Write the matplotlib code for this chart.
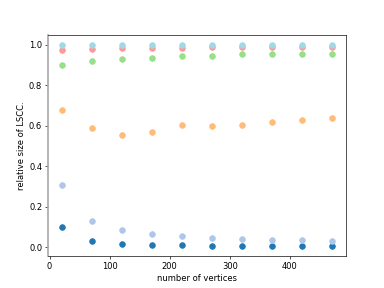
import matplotlib
matplotlib.use("Agg")
import matplotlib.pyplot as plt

vertices = [20, 70, 120, 170, 220, 270, 320, 370, 420, 470]

lscc_a = [0.100, 0.030, 0.018, 0.013, 0.010, 0.008, 0.007, 0.006, 0.005, 0.005]
lscc_b = [0.307, 0.131, 0.085, 0.066, 0.056, 0.046, 0.043, 0.038, 0.034, 0.033]
lscc_c = [0.675, 0.590, 0.552, 0.571, 0.602, 0.599, 0.602, 0.616, 0.626, 0.637]
lscc_d = [0.901, 0.920, 0.930, 0.934, 0.942, 0.946, 0.952, 0.952, 0.954, 0.956]
lscc_e = [0.974, 0.979, 0.982, 0.984, 0.985, 0.987, 0.988, 0.989, 0.990, 0.990]
lscc_f = [0.998, 0.999, 0.999, 0.999, 0.999, 1.000, 1.000, 1.000, 1.000, 1.000]

series = [lscc_a, lscc_b, lscc_c, lscc_d, lscc_e, lscc_f]
colorset = ["#1f77b4", "#aec7e8", "#ffbb78", "#98df8a", "#ff9896", "#9edae5"]

fig, ax = plt.subplots(figsize=(6.4, 4.8), dpi=60)

for (col, vals) in zip(colorset, series):
    ax.scatter(vertices, vals, color=col, s=45)

ax.spines["left"].set_color("#a8a8a8")
ax.spines["left"].set_linewidth(2)
ax.set_xlabel("number of vertices")
ax.set_ylabel("relative size of LSCC.")
fig.savefig("out.png")
